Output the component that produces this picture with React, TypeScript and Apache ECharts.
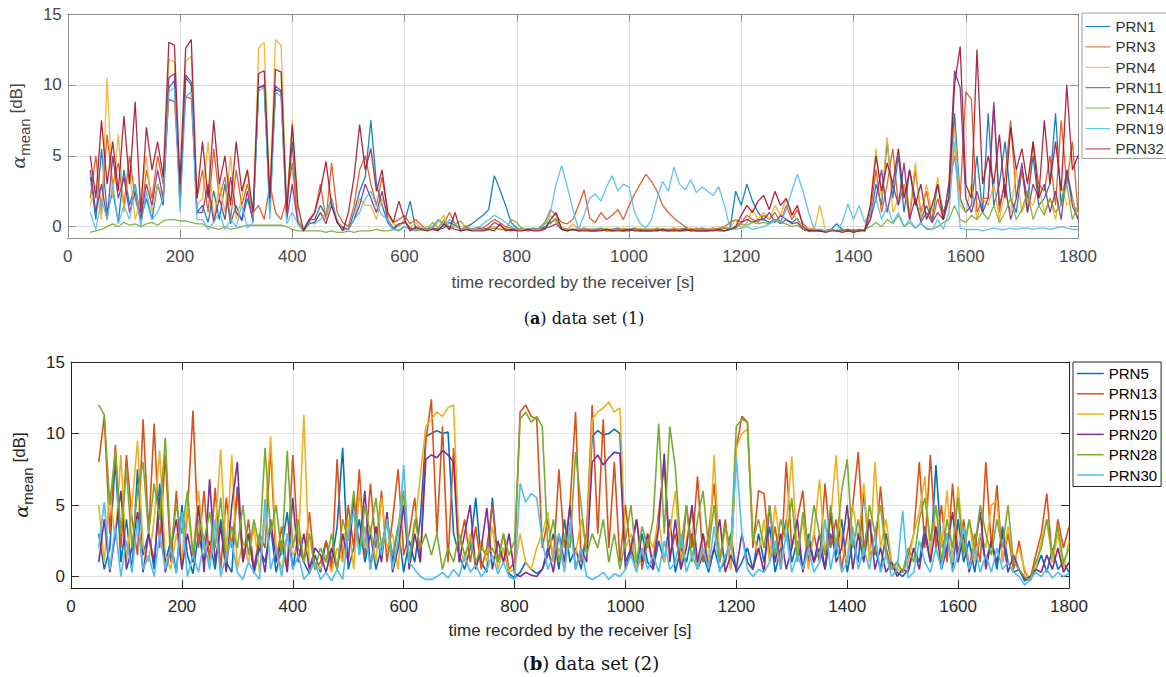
import React, { useEffect, useRef } from "react";
import * as echarts from "echarts";

// ---------- data set (1) : samples every 10 s starting at 40 s ----------
const startA = 40;
const startB = 50;
const stepS = 10;
const namesA = ["PRN1", "PRN3", "PRN4", "PRN11", "PRN14", "PRN19", "PRN32"];
const namesB = ["PRN5", "PRN13", "PRN15", "PRN20", "PRN28", "PRN30"];
const xTickMax = 1800;
const xTickStep = 200;
const yMin = -0.8;
const yMax = 15;

const prn1 = [
  3.5, 0.5, 5.5, 1, 2.5, 0.3, 4, 1.5, 3, 0.5,
  2, 0.5, 3, 1.5, 9.8, 10.3, 2, 10.5, 10, 1,
  1.5, 0.3, 2.5, 0.5, 3, 0.2, 1.5, 0.4, 2, 0.5,
  9.8, 9.9, 1, 9.7, 9.5, 1, 6, 0.5, -0.2, 0.5,
  0.5, 1.5, 0.8, 2, 0.3, 0, -0.2, 1, 2.5, 3.5,
  7.5, 3, 1.5, 0.3, -0.2, 0.1, 0.3, 1.8, -0.2, -0.1,
  -0.2, -0.1, -0.2, -0.1, 0.3, 0.1, -0.2, 0, 0.2, 0.5,
  0.8, 1.2, 3.6, 2.6, 1.5, 0.3, -0.1, -0.2, -0.2, -0.1,
  -0.2, 0, 0.3, 0.5, -0.1, -0.2, -0.2, -0.2, -0.1, -0.2,
  -0.2, -0.1, -0.2, -0.2, -0.1, -0.2, -0.2, -0.1, -0.2, -0.2,
  -0.2, -0.1, -0.2, -0.2, -0.1, -0.2, -0.1, -0.2, -0.2, -0.1,
  -0.2, -0.1, -0.2, -0.1, -0.2, 2.5, 1.5, 3, 1.8, 1,
  0.5, 0.3, 0.5, 0.2, 0.5, 0.3, 0.6, -0.2, -0.3, -0.3,
  -0.3, -0.3, -0.2, 0.2, -0.2, -0.3, -0.3, -0.2, -0.3, 0.5,
  3, 1.5, 6, 2, 5, 1, 4, 2, 0.5, 1.5,
  0.5, 3, 1, 2, 8, 2, 1, 1.5, 5, 1,
  8, 1.5, 3, 6, 2, 1, 4, 2, 5, 1.5,
  2, 3, 8, 1.5, 4, 2, 0.5,
];
const prn3 = [
  2, 5, 1, 6.5, 3, 4.5, 1.5, 5, 2, 0.5,
  4, 2, 5, 3, 9, 8.8, 3, 9.2, 9, 2,
  4, 1, 5.5, 2, 3.5, 0.5, 4, 1.5, 3, 1,
  1.5, 0.5, 3, 1, 0.5, 2, 4.5, 0.3, -0.2, 0.3,
  1, 3, 0.5, 4.5, 1, 0.3, 0, 1.5, 4, 5,
  3, 1.5, 3.5, 1, 0.3, 0.5, 0.8, 0.2, 0.5, 0.1,
  -0.2, 0, 0.5, 0.2, 1, 0.2, -0.2, 0, -0.2, -0.1,
  -0.1, 0.2, 0.5, 0.3, 0, -0.1, -0.2, -0.1, -0.2, -0.2,
  -0.1, 0.3, 1.2, 0.8, 0.3, 0.2, 0.5, 1.5, 2.6, 0.6,
  0.3, 1, 0.5, 0.8, 1.2, 0.5, 1.5, 2.3, 3, 3.7,
  3.2, 2.5, 1.5, 1, 0.6, 0.3, 0, -0.2, -0.1, -0.2,
  -0.2, -0.2, -0.1, 0, 0.3, 0.5, 0.3, 0.8, 0.5, 0.3,
  0.8, 0.5, 1, 0.3, 1.5, 0.5, 1.2, 0.2, -0.2, -0.2,
  -0.3, -0.3, -0.2, -0.3, -0.2, -0.3, -0.3, -0.2, -0.3, 1,
  4, 1, 3, 5.5, 1.5, 3, 0.5, 4, 1, 2.5,
  0.3, 2, 0.5, 3, 5, 2, 9.5, 9, 1, 2,
  2, 8.5, 1, 3.5, 7.5, 2, 4, 1, 6, 3,
  2.5, 5, 1.5, 7.5, 3, 6, 1,
];
const prn4 = [
  1.5, 3, 0.5, 10.5, 2, 6.5, 1, 4, 0.5, 2,
  5, 1, 3, 2, 11.8, 11.6, 2, 11.7, 12, 1.5,
  2, 6, 0.5, 3, 1, 5, 0.5, 2, 4, 0.5,
  12.6, 13, 2, 13.2, 12.8, 1.5, 7.5, 0.5, -0.2, 0.3,
  0.3, 1, 0.5, 2, 0.3, 0, -0.2, 0.5, 2, 1.5,
  1.5, 0.5, 2, 0.8, 0.2, 0, 0.5, -0.1, 0.3, -0.2,
  0, -0.1, 0.3, 0.8, -0.2, 0, -0.2, 0.1, -0.2, 0,
  -0.2, -0.1, 0, -0.2, -0.1, -0.2, -0.2, -0.1, -0.2, -0.2,
  -0.2, -0.1, 0.8, 0.3, -0.1, -0.2, 0.2, -0.2, -0.1, -0.2,
  -0.2, -0.2, -0.1, -0.2, -0.2, -0.1, -0.2, -0.2, -0.1, -0.2,
  -0.2, -0.1, -0.2, -0.2, -0.1, -0.2, -0.2, -0.1, -0.2, -0.2,
  -0.2, -0.1, -0.2, 0, -0.1, 0.5, -0.1, 0.3, 1.2, 0.5,
  1, 0.5, 1.5, 0.8, 2, 1, 0.5, -0.2, -0.1, -0.2,
  1.5, -0.3, -0.2, -0.3, -0.2, -0.3, -0.2, -0.3, -0.2, 1.5,
  5.5, 2, 6.3, 1, 2, 3, 1, 4.5, 0.5, 3,
  1, 3.5, 0.5, 2, 7, 1.5, 1, 3, 0.5, 2,
  1.5, 3, 0.5, 2.5, 1, 4, 1, 2, 1.5, 3,
  1, 2, 0.5, 3, 1.5, 2, 0.5,
];
const prn11 = [
  4, 1, 3, 0.5, 5, 2, 3.5, 1, 2.5, 0.5,
  3, 1.5, 4, 2, 10.5, 10.8, 1.5, 10.7, 10.2, 1,
  1, 3, 0.3, 2, 0.5, 3.5, 1, 0.5, 2.5, 0.3,
  9.8, 10, 1.5, 9.9, 9.6, 0.5, 3, 0.2, -0.3, 0.2,
  0.3, 1, 0.2, 1.5, 0.3, -0.1, -0.2, 0.5, 1.5, 3,
  2, 1, 2.5, 0.5, -0.1, 0.2, 0.3, -0.1, -0.2, -0.2,
  -0.2, -0.1, -0.2, 0.1, 0, -0.2, -0.3, -0.2, -0.2, -0.1,
  -0.2, -0.1, 0.3, 0.1, -0.2, -0.3, -0.2, -0.2, -0.3, -0.2,
  -0.2, -0.1, 0, 0.2, -0.2, -0.3, -0.2, -0.3, -0.2, -0.3,
  -0.3, -0.2, -0.3, -0.3, -0.2, -0.3, -0.3, -0.2, -0.3, -0.3,
  -0.3, -0.2, -0.3, -0.3, -0.2, -0.3, -0.3, -0.2, -0.3, -0.3,
  -0.3, -0.2, -0.3, -0.3, -0.2, -0.1, 0.3, 0.5, 0.3, 0.5,
  0.5, 1, 0.3, 0.8, 0.5, 0.2, 0.3, -0.2, -0.3, -0.2,
  -0.3, -0.3, -0.2, -0.3, -0.3, -0.2, -0.3, -0.3, -0.2, 0.5,
  2, 4, 1, 3, 1.5, 4.5, 0.5, 2, 0.3, 1,
  0.3, 1, 0.5, 3, 11, 9.8, 2, 1, 2.5, 1,
  2, 8.8, 1.5, 3, 0.5, 2, 4.5, 1, 3, 2,
  3, 1, 2.5, 0.5, 4, 1.5, 0.5,
];
const prn14 = [
  -0.4, -0.3, -0.2, 0, 0.2, 0, 0.3, 0.1, 0.2, 0,
  0.2, 0.3, 0.1, 0.4, 0.5, 0.5, 0.4, 0.4, 0.3, 0.2,
  0.2, 0, -0.1, -0.2, 0, -0.2, -0.1, 0, 0.1, 0.1,
  0.1, 0.1, 0.1, 0.1, 0.1, 0, -0.2, -0.3, -0.3, -0.3,
  -0.3, -0.3, -0.4, -0.3, -0.4, -0.4, -0.3, -0.4, -0.3, -0.3,
  -0.3, -0.2, -0.3, -0.3, -0.2, -0.3, 0, -0.2, -0.3, -0.2,
  -0.2, 0.3, -0.1, 0.5, -0.2, 0.2, 0.4, -0.1, -0.2, -0.2,
  -0.2, -0.2, -0.1, -0.2, -0.2, 0.5, 0.3, -0.2, -0.2, -0.2,
  -0.2, 0.3, 0.2, 0.6, -0.1, -0.2, -0.2, -0.2, -0.2, -0.2,
  -0.2, -0.2, -0.3, -0.2, -0.2, -0.3, -0.2, -0.2, -0.3, -0.2,
  -0.2, -0.3, -0.2, -0.2, -0.3, -0.2, -0.2, -0.3, -0.2, -0.2,
  -0.2, -0.2, -0.2, -0.1, -0.2, 0, 0.2, 0.1, 0.3, 0.2,
  0.3, 0.2, 0.4, 0.3, 0.2, 0, 0.1, -0.2, -0.2, -0.2,
  -0.2, -0.3, -0.2, -0.3, -0.2, -0.3, -0.2, -0.3, -0.2, 0,
  0.3, 0, 0.5, 0.2, 0.8, 0, 0.3, -0.1, 0.2, -0.1,
  -0.2, 0, 0.3, 0.5, 1.5, 0.5, 0.3, 0.8, 0.5, 1,
  0.5, 1.5, 0.3, 1, 2, 0.5, 1.2, 2.5, 0.5, 1.5,
  0.8, 2, 1, 1.5, 3, 0.5, 1.5,
];
const prn19 = [
  1, -0.2, 2, 0.5, 3, 0.2, 1.5, 0.5, 3, 0,
  2.5, 0.5, 1, 2, 9.5, 9.8, 1, 9.2, 9.5, 0.5,
  0.5, -0.2, 0.3, 1, -0.2, 0.5, 0, 1.5, -0.1, 0.3,
  9.6, 9.8, 0.5, 9.5, 9.2, 0.2, 1, 0.2, -0.3, 0.3,
  0.2, 0.5, 1, 1.8, 0.5, -0.2, -0.2, 0.5, 1, 2,
  2.5, 1.5, 0.8, 0.5, -0.2, -0.2, 0, -0.2, -0.2, -0.2,
  -0.2, -0.1, 0.5, 0, 0.5, 0.2, -0.2, -0.2, -0.2, -0.1,
  0.2, 0.5, 0.8, 0.6, 0.3, 0, -0.2, -0.2, -0.2, -0.2,
  -0.2, 0.2, 1, 3, 4.3, 2.8, 1.2, -0.2, 0.8, 2,
  2.3, 1.8, 2.8, 3.6, 2.5, 3, 2.8, 1, 0.2, -0.1,
  0.5, 2, 3.2, 2.5, 4.2, 3, 2.6, 3.3, 2.4, 2.8,
  2.5, 2.2, 2.8, 1.5, -0.1, -0.2, -0.1, 0, -0.2, -0.1,
  0, 0.2, 0.5, 0.3, 1.2, 2.5, 3.7, 2.5, 1, -0.2,
  -0.2, -0.3, -0.2, -0.3, 0.3, 1.6, 0.5, 1.5, 0.3, 1,
  2, 0.5, 1.5, 0.3, 1, 0, 0.5, -0.1, 0.3, -0.2,
  -0.2, 0.5, -0.2, 1, 6, -0.1, -0.2, -0.2, -0.2, -0.3,
  -0.2, -0.1, -0.2, -0.2, -0.1, -0.2, -0.1, -0.1, -0.2, -0.1,
  -0.1, -0.2, -0.1, 0, -0.1, -0.2, -0.2,
];
const prn32 = [
  5, 2, 7.5, 3, 6, 2.5, 7.8, 3, 8.8, 1,
  7, 4, 6, 3.5, 13, 12.8, 3, 12.6, 13.2, 2,
  6, 2, 7.5, 3, 5, 1.5, 6, 2.5, 4, 1,
  10.8, 11, 2, 11.1, 10.9, 1, 7.2, 1.5, -0.3, 0.5,
  1, 2.5, 4.6, 1.5, 0.3, -0.3, 1, 3.5, 7.2, 4,
  5.5, 2.5, 4, 1, 0.3, 1.8, 0.5, -0.3, 0, -0.2,
  -0.3, -0.2, -0.3, 0.2, -0.2, 1, -0.3, -0.2, -0.3, -0.3,
  -0.3, -0.2, -0.3, 0.2, -0.3, -0.2, -0.3, -0.3, -0.2, -0.3,
  -0.3, -0.2, 0.5, 1, -0.2, -0.3, -0.2, -0.3, -0.3, -0.3,
  -0.3, -0.3, -0.2, -0.3, -0.3, -0.3, -0.2, -0.3, -0.3, -0.3,
  -0.3, -0.3, -0.2, -0.3, -0.3, -0.3, -0.2, -0.3, -0.3, -0.3,
  -0.3, -0.3, -0.2, -0.3, -0.2, 0, 0.8, 1.5, 1, 1.8,
  2.2, 1.2, 2.5, 1.5, 2, 0.8, 1.5, 0, -0.3, -0.3,
  -0.3, -0.4, -0.3, -0.3, -0.4, -0.3, -0.4, -0.3, -0.3, 1.5,
  5, 2.5, 4.5, 3, 5.5, 2, 4, 1.5, 3, 0.5,
  1.5, 3, 0.5, 2, 10, 12.7, 3, 2, 12.5, 3,
  5, 3, 6.5, 2, 7, 4, 5.5, 3, 6, 2,
  7.5, 3, 6, 2.5, 10, 4, 5,
];

// ---------- data set (2) : samples every 10 s starting at 50 s ----------
const prn5 = [
  3, 0.5, 2, 8.2, 1, 4, 0.3, 7.5, 1.5, 3,
  0.5, 6.5, 1, 2.5, 0.3, 5, 1.5, 0.2, 3, 1,
  2.5, 0.5, 4, 1, 0.3, 6.3, 1.5, 3, 0.2, 2,
  1, 3.5, 0.3, 2, 4.5, 0.5, 3, 1, 0.2, 1.5,
  0.3, 2.5, 1, 3.5, 9, 0.5, 2, 4, 1, 3,
  0.5, 2, 4, 1, 3.5, 0.3, 2.5, 1, 4, 9.8,
  10, 10.2, 10, 10.1, 3, 1.5, 0.5, 2, 5.5, 1,
  0.3, 5.5, 1, 2, 0.2, -0.1, 0.3, 1, 0.5, 0.2,
  0.5, 1.5, 3, 0.5, 4, 1, 2, 0.5, 3, 9.8,
  10.2, 9.9, 10, 10.3, 10, 1, 2, 0.5, 3, 1,
  0.5, 2.5, 1, 4, 0.3, 2, 1, 3, 0.5, 1.5,
  0.3, 2, 0.5, 1, 3, 0.3, 1, 2, 0.5, 3,
  1, 3.5, 0.3, 2, 4, 1, 2.5, 0.5, 3, 1,
  2, 0.5, 3, 1.5, 4, 0.3, 2.5, 1, 6, 1.5,
  2, 0.5, 3, 1, 0.3, 0, 0.5, 2, 1, 3.5,
  1, 7.8, 2, 3, 0.5, 4, 1, 2.5, 0.3, 3,
  1, 2.5, 0.5, 3.5, 1, 0.3, 0.5, -0.3, -0.1, 0.5,
  1.5, 0.3, 2, 0.5, 1, 0.3,
];
const prn13 = [
  8, 11.2, 3, 9.2, 2, 8.5, 4, 1.5, 11, 3,
  10.7, 2, 8.5, 1, 6, 0.5, 4.5, 11.6, 2, 6,
  1, 6.2, 0.5, 5.5, 2, 6, 1, 4, 0.5, 3,
  2, 9, 1, 3.5, 0.5, 8.5, 2, 1, 4.5, 0.5,
  1, 2.5, 0.5, 8.2, 1, 5, 2, 7.5, 1.5, 6.5,
  2, 6, 1, 4, 7.5, 1.5, 3, 5.5, 1, 9.5,
  12.4, 3, 10.5, 1, 9, 2, 4, 1, 3.5, 0.5,
  2, 5, 1, 3, 0.5, 1, 11.5, 12, 11.2, 11,
  2, 4, 1, 7.5, 2, 5, 11.5, 1, 3, 12,
  3, 11, 2, 8, 1, 5, 1.5, 4, 0.5, 2.5,
  1, 4.5, 7.8, 1.5, 3, 0.5, 5, 2, 7, 1,
  3, 6.5, 1, 4, 0.5, 9, 11.2, 10.8, 2, 6,
  5.8, 1.5, 3.5, 0.5, 8, 2, 4, 6, 1, 3,
  1, 6.5, 2, 4, 0.5, 3, 5, 8.7, 2, 4,
  1.5, 6.3, 2, 0.5, 1, 0.3, 1.5, 3, 8, 2,
  8.5, 2, 5, 1, 6.5, 1.5, 4, 0.5, 3, 1,
  8, 2, 6.4, 1, 3, 0.5, 2.5, 0.3, -0.2, 1.5,
  3, 5.8, 1, 4, 2, 3.5,
];
const prn15 = [
  5, 1, 6, 2.5, 8.5, 1, 5, 9.5, 2, 1,
  4, 8.8, 1.5, 0.5, 3, 1, 5, 1.5, 6, 2,
  1, 3, 8.9, 1.5, 8.5, 0.5, 2.5, 1, 3.5, 0.3,
  4, 9.8, 2, 0.5, 3, 1.5, 2, 11.3, 0.5, 1,
  0.5, 1.5, 0.3, 2, 1, 4, 0.5, 6, 2, 3.5,
  1, 5.5, 2, 3, 0.5, 6, 1, 3.5, 7, 10.5,
  11, 11.5, 11.2, 11.8, 12, 2, 1, 3, 0.5, 2.5,
  1, 3.5, 0.5, 2, 0.3, 0.5, 3, 1, 0.5, 2,
  3, 4.5, 1, 2, 0.5, 3, 1.5, 4, 2, 11,
  11.5, 11.8, 12.2, 11.5, 11.8, 2, 3, 0.5, 1.5, 3,
  2, 4, 1, 3, 6, 1, 2.5, 4.5, 0.5, 3,
  1, 8.5, 1, 3.5, 0.5, 9, 10, 10.3, 3, 1.5,
  4, 1, 5, 2, 3.5, 8.4, 1.5, 4, 0.5, 3,
  6.8, 1.5, 4, 8.5, 2, 1, 5, 2.5, 6.5, 1,
  8, 2, 4, 1, 0.5, 0.3, 1, 3, 4.5, 7,
  1.5, 5, 2, 6, 1, 6.3, 2, 4, 1, 3,
  2, 5, 5.3, 1, 3.5, 1, 2, 0.5, -0.3, 0.5,
  2.5, 4, 1, 3, 0.5, 2.5,
];
const prn20 = [
  1, 4, 0.3, 3, 6, 0.5, 2, 4.5, 0.3, 3,
  1, 5.5, 0.3, 2, 4, 0.5, 3, 1, 5, 0.3,
  6.8, 1, 3.5, 0.3, 5, 8, 1, 3, 0.5, 2.5,
  0.3, 4, 1, 2.5, 0.3, 5.5, 1, 3, 0.5, 2,
  1.5, 0.3, 2, 0.5, 3, 1, 5.5, 2, 6, 0.5,
  3.5, 1, 4.5, 0.3, 2, 5, 0.5, 3, 1, 8.2,
  8.5, 8.3, 8.8, 8.5, 8, 1, 3, 5, 0.5, 2,
  4.8, 0.5, 2.5, 1, 3, 0.2, 0, 0.3, 0.1, 0,
  0.5, 2, 0.3, 3, 1, 5, 0.5, 2, 1, 8,
  8.5, 7.8, 8.3, 8.7, 8.6, 0.5, 2, 4, 1, 3,
  0.5, 3.5, 8.6, 1, 4, 0.5, 2, 5, 1, 3,
  0.5, 2, 4, 0.3, 1.5, 0.5, 3, 1, 0.5, 2,
  0.3, 5, 1, 3, 0.5, 2, 4, 0.3, 2.5, 1,
  3, 0.5, 4.5, 1, 2, 5, 0.5, 3, 1, 4,
  0.5, 2, 0.3, 1, 0, 0.5, 0.3, 2, 0.5, 3,
  1, 3.5, 0.5, 2, 4.5, 1, 3, 0.3, 2, 4.5,
  0.5, 2.5, 1, 3, 0.3, 1.5, 0.5, -0.2, 0, 0.5,
  0.3, 1.5, 0.5, 2, 0.3, 1,
];
const prn28 = [
  12, 11.3, 5, 8.8, 3, 7.5, 2, 6, 8, 3,
  6.5, 4, 9.7, 2, 5, 3, 6, 1.5, 4, 2.5,
  4.5, 2, 5.5, 1, 3.5, 2, 5, 1.5, 4, 2,
  9, 3, 5, 1.5, 8.8, 2, 4, 1, 3, 0.5,
  2, 1, 3, 0.5, 4, 2.5, 6, 1.5, 5, 3,
  5.5, 2, 4, 1.5, 3.5, 6, 1, 4, 2, 3,
  1.5, 3, 0.5, 2, 1, 3, 1.5, 2.5, 1, 2,
  1.5, 2, 1, 3, 1.5, 2.5, 11, 11.5, 10.8, 11.2,
  10.5, 2, 4, 1, 3, 2, 8.7, 5, 1.5, 3,
  2, 4, 1, 3, 0.5, 2.5, 5, 1, 3.5, 2,
  4, 10.7, 3, 10.5, 7.6, 2, 5, 1, 4, 6,
  2, 5, 1, 3.5, 2, 10.5, 11, 10.8, 2.5, 4,
  2, 5, 1.5, 4, 2.5, 5.5, 1, 4.5, 2, 5,
  3, 1.5, 5, 2, 6, 8.2, 2, 4, 1.5, 5,
  3, 5, 1.5, 0.5, 1, 0.3, 2, 1, 4, 5.5,
  2.5, 5, 1, 4, 2, 5.5, 1.5, 4, 2, 5,
  3, 1.5, 4, 2, 5, 1, 0.5, 0, -0.3, 1,
  2, 4, 1.5, 3.5, 1, 2,
];
const prn30 = [
  2, 5.2, 0.5, 3.5, 0, 2.5, 0.3, 4, 0.5, 1.5,
  0, 3, 0.5, 2, 0.2, 4.5, 0, 1.5, 0.3, 2.5,
  0.5, 4, 0, 1.5, 2.5, 0.3, -0.2, 1, 0.3, -0.2,
  5.4, 0.5, 2, 0, 3, 0.5, 1.5, -0.2, 0.3, 1,
  -0.2, 0.3, -0.3, 0.5, -0.2, 3, 4.5, 1.5, 3.5, 0.5,
  3, 1.5, 4, 0.5, 2.5, 7.8, 1, 0.5, 0, -0.2,
  -0.2, 0, 0.3, -0.1, 0.5, 0, 1.5, 0.3, 0.8, 0,
  0.5, 1.5, 0.2, 1, 0, -0.2, 6.5, 5.2, 5.8, 5.5,
  2.5, 0.5, 1.5, 3, 0.3, 3.8, 0.5, 2, 0, -0.2,
  0, 0.3, -0.2, 0.2, 0, 0.5, 1.5, 0.3, 2, 0.5,
  1.5, 0.3, 2.5, 0.5, 1, 3, 0.3, 1.5, 0.5, 2,
  0.5, 3.5, 0.3, 1.5, 2, 8.3, 3, 0.5, 0, 0.5,
  0.3, 1, 2.5, 0.5, 3, 0.3, 1.5, 0.5, 2, 0.3,
  1, 4, 0.5, 2.5, 0.3, 1, 3.5, 0.5, 2, 0.5,
  3, 0.3, 1.5, 0, 0.5, 4.6, -0.1, 0.3, 2.5, 1,
  0.3, 2, 0.5, 3, 0.3, 1.5, 3.5, 0.5, 2, 0.3,
  1.5, 0.3, 2, 0.5, 1, 0.3, 0, -0.6, -0.2, 0.3,
  0, 0.5, -0.1, 0.3, 0, 0.2,
];

const valuesA = [prn1, prn3, prn4, prn11, prn14, prn19, prn32];
const valuesB = [prn5, prn13, prn15, prn20, prn28, prn30];
const colorsA = ["#0072BD", "#D95319", "#EDB120", "#7E2F8E", "#77AC30", "#4DBEEE", "#A2142F"];
const colorsB = ["#0072BD", "#D95319", "#EDB120", "#7E2F8E", "#77AC30", "#4DBEEE"];

const sans = "'Liberation Sans', Arial, Helvetica, sans-serif";
const serif = "'DejaVu Serif', 'Liberation Serif', serif";

const toPairs = (vals: number[], start: number) => vals.map((v, i) => [start + i * stepS, v]);

const yFmt = (v: number) => (Math.abs(v - Math.round(v / 5) * 5) < 1e-6 ? String(Math.round(v)) : "");
const xFmt = (v: number) => String(Math.round(v));

function makeAxes(gridIndex: number, lineColor: string, textColor: string, gridColor: string, nameGap: number) {
  const xMain = {
    type: "value", gridIndex, min: 0, max: xTickMax, interval: xTickStep, position: "bottom",
    axisLine: { show: true, onZero: false, lineStyle: { color: lineColor, width: 1 } },
    axisTick: { show: true, inside: true, length: 8, lineStyle: { color: lineColor } },
    axisLabel: { color: textColor, fontSize: 17, fontFamily: sans, margin: 10, formatter: xFmt },
    splitLine: { show: true, lineStyle: { color: gridColor, width: 1 } },
    name: "time recorded by the receiver [s]", nameLocation: "middle", nameGap,
    nameTextStyle: { color: textColor, fontSize: 17, fontFamily: sans },
  };
  const xTop = {
    type: "value", gridIndex, min: 0, max: xTickMax, interval: xTickStep, position: "top",
    axisLine: { show: true, onZero: false, lineStyle: { color: lineColor, width: 1 } },
    axisTick: { show: true, inside: true, length: 8, lineStyle: { color: lineColor } },
    axisLabel: { show: false }, splitLine: { show: false },
  };
  const yMain = {
    type: "value", gridIndex, min: yMin, max: yMax, splitNumber: 3, minInterval: 5, maxInterval: 5, position: "left",
    axisLine: { show: true, onZero: false, lineStyle: { color: lineColor, width: 1 } },
    axisTick: { show: true, inside: true, length: 8, lineStyle: { color: lineColor } },
    axisLabel: { color: textColor, fontSize: 17, fontFamily: sans, margin: 6, formatter: yFmt },
    splitLine: { show: true, lineStyle: { color: gridColor, width: 1 } },
    name: "{a|α}{s|mean}{b| [dB]}", nameLocation: "middle", nameGap: 33,
    nameTextStyle: {
      color: textColor,
      rich: {
        a: { fontSize: 19, fontFamily: serif, fontStyle: "italic", color: textColor, verticalAlign: "top", lineHeight: 20 },
        s: { fontSize: 15, fontFamily: sans, color: textColor, verticalAlign: "top", lineHeight: 20, padding: [9, 0, 0, 0] },
        b: { fontSize: 17, fontFamily: sans, color: textColor, verticalAlign: "top", lineHeight: 20 },
      },
    },
  };
  const yRight = {
    type: "value", gridIndex, min: yMin, max: yMax, splitNumber: 3, minInterval: 5, maxInterval: 5, position: "right",
    axisLine: { show: true, onZero: false, lineStyle: { color: lineColor, width: 1 } },
    axisTick: { show: true, inside: true, length: 8, lineStyle: { color: lineColor } },
    axisLabel: { show: false }, splitLine: { show: false },
  };
  return { xs: [xMain, xTop], ys: [yMain, yRight] };
}

export default function App() {
  const ref = useRef<HTMLDivElement>(null);
  useEffect(() => {
    if (!ref.current) return;
    const chart = echarts.init(ref.current, undefined, { renderer: "svg" });
    const axA = makeAxes(0, "#8f8f8f", "#474747", "#dcdcdc", 36);
    const axB = makeAxes(1, "#262626", "#262626", "#e3e3e3", 34);

    const seriesA = namesA.map((n, k) => ({
      type: "line", name: n, xAxisIndex: 0, yAxisIndex: 0, data: toPairs(valuesA[k], startA),
      symbol: "none", silent: true, clip: true,
      lineStyle: { width: 1.3, color: colorsA[k], opacity: 0.9 }, itemStyle: { color: colorsA[k] },
    }));
    const seriesB = namesB.map((n, k) => ({
      type: "line", name: n, xAxisIndex: 2, yAxisIndex: 2, data: toPairs(valuesB[k], startB),
      symbol: "none", silent: true, clip: true,
      lineStyle: { width: 1.6, color: colorsB[k] }, itemStyle: { color: colorsB[k] },
    }));

    chart.setOption({
      animation: false,
      backgroundColor: "#ffffff",
      grid: [
        { left: 67, top: 14, width: 1011, height: 224, containLabel: false },
        { left: 71, top: 362, width: 998, height: 226, containLabel: false },
      ],
      xAxis: [...axA.xs, ...axB.xs],
      yAxis: [...axA.ys, ...axB.ys],
      legend: [
        {
          data: namesA, orient: "vertical", left: 1082, top: 13, itemWidth: 25, itemHeight: 14, itemGap: 5.4,
          padding: [6, 6, 2, 3], borderColor: "#9a9a9a", borderWidth: 1, backgroundColor: "#ffffff",
          selectedMode: false, textStyle: { fontSize: 15, color: "#333333", fontFamily: sans },
          lineStyle: { width: 1 }, itemStyle: { opacity: 0, borderWidth: 0 },
        },
        {
          data: namesB, orient: "vertical", left: 1073, top: 362, itemWidth: 27, itemHeight: 14, itemGap: 5.3,
          padding: [4, 4, 4, 3], borderColor: "#262626", borderWidth: 1, backgroundColor: "#ffffff",
          selectedMode: false, textStyle: { fontSize: 15, color: "#000000", fontFamily: sans },
          lineStyle: { width: 1.5 }, itemStyle: { opacity: 0, borderWidth: 0 },
        },
      ],
      graphic: [
        {
          type: "text", x: 584, y: 318, silent: true,
          style: {
            text: "({b|a}) data set (1)", fill: "#111111", fontSize: 16, fontFamily: serif,
            align: "center", verticalAlign: "middle",
            rich: { b: { fontSize: 16, fontFamily: serif, fontWeight: "bold", fill: "#111111" } },
          },
        },
        {
          type: "text", x: 591, y: 663, silent: true,
          style: {
            text: "({b|b}) data set (2)", fill: "#111111", fontSize: 18, fontFamily: serif,
            align: "center", verticalAlign: "middle",
            rich: { b: { fontSize: 18, fontFamily: serif, fontWeight: "bold", fill: "#111111" } },
          },
        },
      ],
      series: [...seriesA, ...seriesB],
    });
    return () => chart.dispose();
  }, []);
  return (
    <div
      ref={ref}
      style={{ position: "fixed", left: 0, top: 0, width: 1166, height: 677, background: "#ffffff" }}
    />
  );
}
